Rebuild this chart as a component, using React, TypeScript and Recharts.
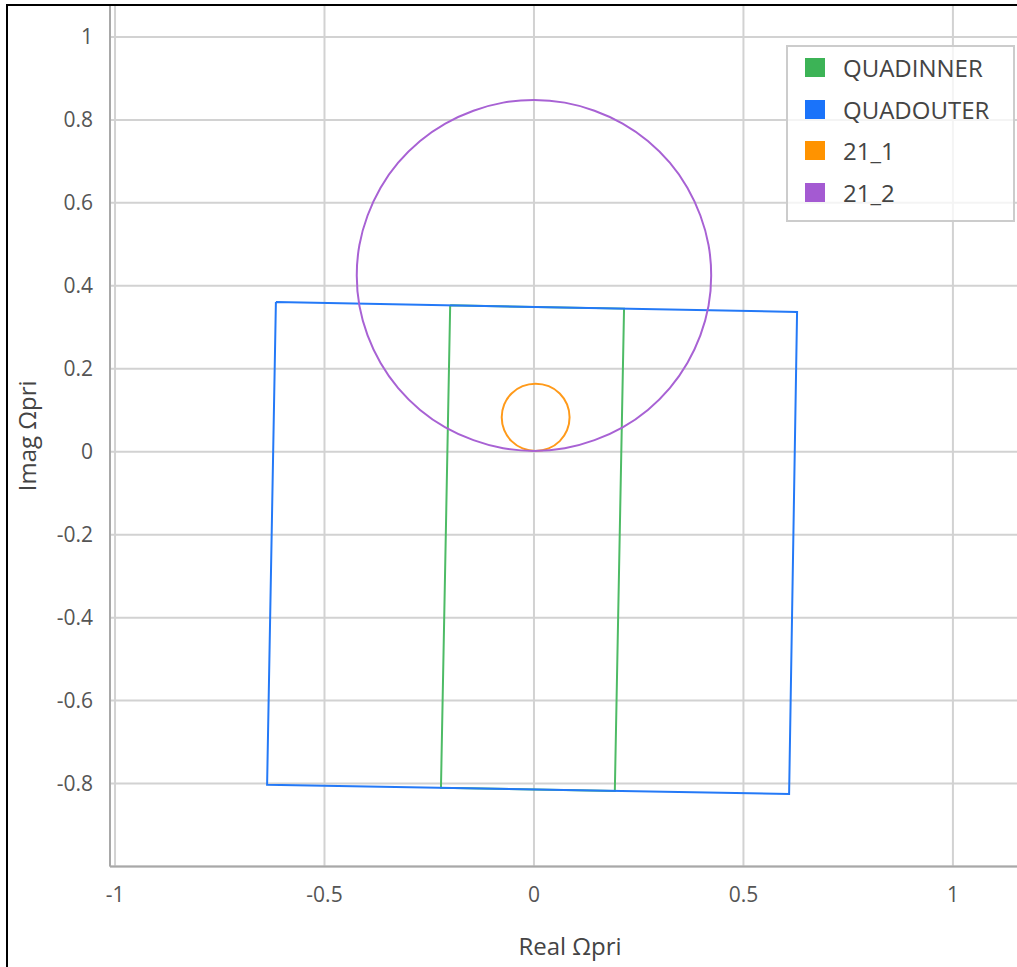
import { ScatterChart, Scatter, XAxis, YAxis, CartesianGrid } from 'recharts';

const xTicks = [-1, -0.5, 0, 0.5, 1];
const yTicks = [-0.8, -0.6, -0.4, -0.2, 0, 0.2, 0.4, 0.6, 0.8, 1];

// corners, closed back to the first one
const quadInnerX = [-0.2, 0.215, 0.193, -0.222, -0.2];
const quadInnerY = [0.353, 0.345, -0.818, -0.81, 0.353];

const quadOuterX = [-0.616, 0.628, 0.609, -0.637, -0.616];
const quadOuterY = [0.361, 0.337, -0.825, -0.803, 0.361];

// circles: points read round the outline, the curve closes them
const circle1X = [0.004, 0.036, 0.063, 0.081, 0.087, 0.081, 0.063, 0.036, 0.004, -0.028, -0.055, -0.073, -0.079, -0.073, -0.055, -0.028];
const circle1Y = [0, 0.006, 0.024, 0.051, 0.083, 0.115, 0.142, 0.16, 0.166, 0.16, 0.142, 0.115, 0.083, 0.051, 0.024, 0.006];

const circle2X = [0, 0.074, 0.145, 0.213, 0.273, 0.326, 0.368, 0.399, 0.419, 0.425, 0.419, 0.399, 0.368, 0.326, 0.273, 0.213, 0.145, 0.074, 0, -0.074, -0.145, -0.213, -0.273, -0.326, -0.368, -0.399, -0.419, -0.425, -0.419, -0.399, -0.368, -0.326, -0.273, -0.213, -0.145, -0.074];
const circle2Y = [0, 0.006, 0.026, 0.057, 0.099, 0.152, 0.213, 0.28, 0.351, 0.425, 0.499, 0.57, 0.638, 0.698, 0.751, 0.793, 0.824, 0.844, 0.85, 0.844, 0.824, 0.793, 0.751, 0.698, 0.638, 0.57, 0.499, 0.425, 0.351, 0.28, 0.213, 0.152, 0.099, 0.057, 0.026, 0.006];

const toPoints = (xs: number[], ys: number[]) => xs.map((x, i) => ({ x, y: ys[i] }));

const series = [
  { name: 'QUADINNER', color: '#3cb356', line: '#4dbb65', curve: 'linear', data: toPoints(quadInnerX, quadInnerY) },
  { name: 'QUADOUTER', color: '#1a73fa', line: '#2479f7', curve: 'linear', data: toPoints(quadOuterX, quadOuterY) },
  { name: '21_1', color: '#ff9300', line: '#ff9a1a', curve: 'basisClosed', data: toPoints(circle1X, circle1Y) },
  { name: '21_2', color: '#a45ad2', line: '#a862d4', curve: 'basisClosed', data: toPoints(circle2X, circle2Y) },
];

const FONT = '"Open Sans", sans-serif';

export default function App() {
  return (
    <div style={{ position: 'absolute', left: 0, top: 0, width: 1017, height: 967, overflow: 'hidden', background: '#fff', fontFamily: FONT }}>
      <ScatterChart width={1040} height={967} margin={{ top: 5, right: 10, bottom: 0, left: 0 }}>
        <CartesianGrid stroke="#d2d2d2" strokeWidth={2} />
        <XAxis
          type="number"
          dataKey="x"
          domain={[-1.012, 1.184]}
          ticks={xTicks}
          allowDataOverflow
          height={100.5}
          tickSize={0}
          tickMargin={21}
          tick={{ fill: '#555', fontSize: 21, fontFamily: FONT }}
          axisLine={{ stroke: '#a8a8a8', strokeWidth: 2 }}
          label={{ value: 'Real Ωpri', position: 'insideBottom', offset: 12, fill: '#444', fontSize: 24, fontFamily: FONT }}
        />
        <YAxis
          type="number"
          dataKey="y"
          domain={[-1, 1.077]}
          ticks={yTicks}
          allowDataOverflow
          width={110}
          tickSize={0}
          tickMargin={17}
          tick={{ fill: '#555', fontSize: 21, fontFamily: FONT }}
          axisLine={{ stroke: '#a8a8a8', strokeWidth: 2 }}
          label={{ value: 'Imag Ωpri', angle: -90, position: 'insideLeft', offset: 27, fill: '#444', fontSize: 24, fontFamily: FONT, style: { textAnchor: 'middle' } }}
        />
        {series.map((s) => (
          <Scatter
            key={s.name}
            name={s.name}
            data={s.data}
            fill={s.color}
            line={{ stroke: s.line, strokeWidth: 2 }}
            lineType="joint"
            lineJointType={s.curve as any}
            shape={() => <g />}
            isAnimationActive={false}
          />
        ))}
      </ScatterChart>

      <div style={{ position: 'absolute', left: 786, top: 45, width: 229, height: 177, boxSizing: 'border-box', border: '2px solid #cccccc', background: 'rgba(255,255,255,0.75)', padding: '0 0 0 17px' }}>
        {series.map((s) => (
          <div key={s.name} style={{ display: 'flex', alignItems: 'center', height: 41.6 }}>
            <div style={{ width: 20, height: 19, background: s.color, marginRight: 18 }} />
            <span style={{ fontSize: 24, color: '#444', fontFamily: FONT }}>{s.name}</span>
          </div>
        ))}
      </div>

      <div style={{ position: 'absolute', left: 6, top: 4, width: 2000, height: 2000, borderLeft: '2px solid #000', borderTop: '2px solid #000' }} />
    </div>
  );
}
